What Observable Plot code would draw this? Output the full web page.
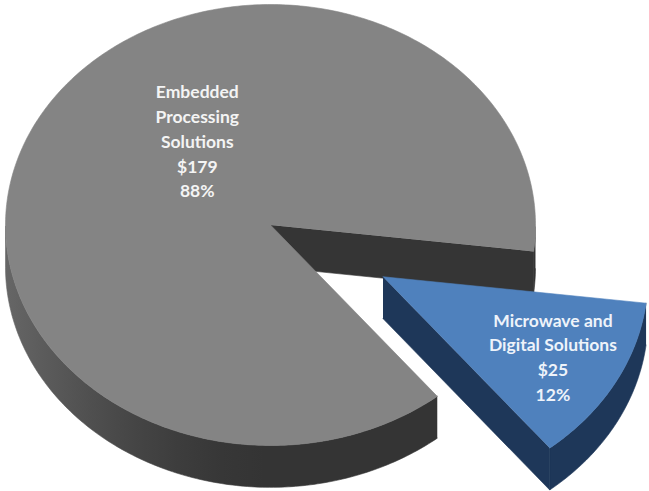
<!DOCTYPE html>
<html><head><meta charset="utf-8">
<script src="https://cdn.jsdelivr.net/npm/d3@7"></script>
<script src="https://cdn.jsdelivr.net/npm/@observablehq/plot@0.6"></script>
<style>html,body{margin:0;padding:0;background:#fff;}</style>
</head><body><div id="chart"></div>
<script>
// ---- data ----
const segments = ["Embedded Processing Solutions", "Microwave and Digital Solutions"];
const segmentLabels = ["Embedded\nProcessing\nSolutions", "Microwave and\nDigital Solutions"];
const revenue = [179, 25];

// ---- layout / style ----
const W = 649, H = 491;
const CX = 270, CY = 224.5, R = 265;   // pixel placement of pie centre and radius
const TILT = 0.832, DEPTH = 0.158;     // vertical squash of top face, thickness
const START = 141;                     // start angle (deg, d3.pie convention)
const EXPLODE = [0, 0.485];
const topColors = ["#848484", "#4f81bd"];
const sideColors = ["#353535", "#1e3759"];
const textColors = ["#f4f4f4", "#eef3fa"];
const labelR = [0.475, 0.735], labelShift = [25.5, 0.3];

const rad = Math.PI / 180;
const arcs = d3.pie().sort(null)
  .startAngle(START * rad).endAngle(START * rad + 2 * Math.PI)(revenue);
const total = d3.sum(revenue);
const pct = d3.format(".0%");

const polys = [];
let pid = 0;
function addPoly(pts, fill) {
  const id = pid++;
  for (const [x, y] of pts) polys.push({id, x, y, fill});
}
const grayShade = d3.interpolateRgb("#343434", "#666666");
const gradients = [];

const texts = [];
arcs.forEach((a, i) => {
  const t0 = a.startAngle - Math.PI / 2, t1 = a.endAngle - Math.PI / 2;
  const tm = (t0 + t1) / 2;
  const ox = EXPLODE[i] * Math.cos(tm), oy = EXPLODE[i] * TILT * Math.sin(tm);
  const top = (t, r = 1) => [ox + r * Math.cos(t), oy + r * TILT * Math.sin(t)];
  const bot = (t, r = 1) => { const p = top(t, r); return [p[0], p[1] + DEPTH]; };
  const n = Math.ceil((t1 - t0) / (0.8 * rad));
  const dt = (t1 - t0) / n;
  // outer rim: contiguous front-facing runs as single polygons
  const runs = [];
  let cur = null;
  for (let k = 0; k <= n; k++) {
    const t = t0 + k * dt;
    const vis = Math.sin(t) > -1e-9;
    if (vis) { if (!cur) { cur = []; runs.push(cur); } cur.push(t); }
    else cur = null;
  }
  runs.forEach((run, j) => {
    if (run.length < 2) return;
    const pts = run.map(t => top(t)).concat(run.slice().reverse().map(t => bot(t)));
    let fill = sideColors[i];
    if (i === 0) {
      // horizontal gradient: lighter towards the left side of the pie
      const xs = pts.map(p => p[0]);
      const x0 = d3.min(xs), x1 = d3.max(xs);
      const id = `rim${i}_${j}`;
      const stops = d3.range(0, 1.0001, 0.1).map(f => {
        const x = x0 + f * (x1 - x0);
        const c = Math.max(0, Math.min(1, -(x - ox)));
        return {offset: f, color: grayShade(Math.pow(c, 1.6))};
      });
      gradients.push({id, stops});
      fill = `url(#${id})`;
    }
    addPoly(pts, fill);
  });
  // radial faces
  if (-Math.cos(t0) > 0) addPoly([top(t0, 0), top(t0), bot(t0), bot(t0, 0)], sideColors[i]);
  if (Math.cos(t1) > 0) addPoly([top(t1, 0), top(t1), bot(t1), bot(t1, 0)], sideColors[i]);
  // top face
  const face = [top(0, 0)];
  for (let k = 0; k <= n; k++) face.push(top(t0 + k * dt));
  addPoly(face, topColors[i]);
  // label
  const tl = tm + labelShift[i] * rad;
  const [lx, ly] = top(tl, labelR[i]);
  texts.push({x: lx, y: ly, fill: textColors[i],
    text: `${segmentLabels[i]}\n$${revenue[i]}\n${pct(revenue[i] / total)}`});
});

const defsMark = () => {
  const defs = d3.create("svg:defs");
  for (const g of gradients) {
    const lg = defs.append("linearGradient").attr("id", g.id)
      .attr("x1", 0).attr("x2", 1).attr("y1", 0).attr("y2", 0);
    for (const s of g.stops) lg.append("stop").attr("offset", s.offset).attr("stop-color", s.color);
  }
  return defs.node();
};

const chart = Plot.plot({
  width: W, height: H,
  margin: 0,
  x: {domain: [-CX / R, (W - CX) / R], range: [0, W], axis: null},
  y: {domain: [-CY / R, (H - CY) / R], range: [0, H], axis: null},
  color: {type: "identity"},
  style: {background: "#fff"},
  marks: [
    defsMark,
    Plot.line(polys, {x: "x", y: "y", z: "id", fill: "fill", stroke: "fill", strokeWidth: 0.6, curve: "linear"}),
    Plot.text(texts, {x: "x", y: "y", text: "text", fill: "fill",
      fontSize: 17.5, fontWeight: "bold", fontFamily: "Lato", lineHeight: 1.42})
  ]
});
document.getElementById("chart").appendChild(chart);
</script>
</body></html>
